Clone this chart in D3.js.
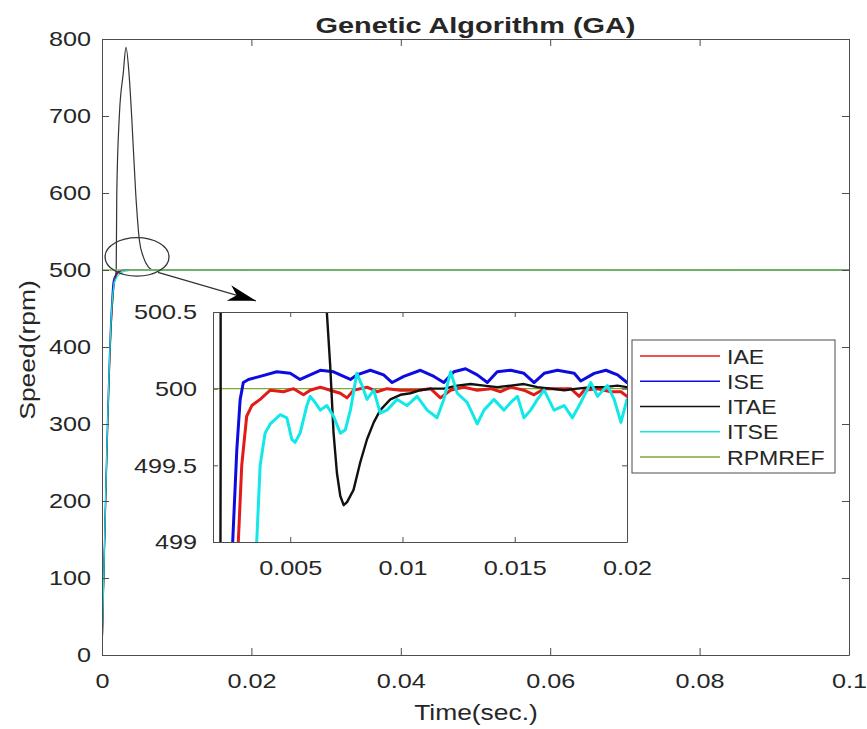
<!DOCTYPE html>
<html>
<head>
<meta charset="utf-8">
<script src="https://cdn.jsdelivr.net/npm/d3@7"></script>
<style>
  body { margin: 0; background: #fff; }
  text { font-family: "Liberation Sans", Arial, sans-serif; fill: #262626; }
  .axis text { font-size: 21px; fill: #262626; }
  .legend text { font-size: 21px; }
</style>
</head>
<body>
<svg id="chart" width="867" height="729"></svg>
<script>
// tick values / labels
var mainXTicks = [0, 0.02, 0.04, 0.06, 0.08, 0.1],
    mainXLabels = ["0", "0.02", "0.04", "0.06", "0.08", "0.1"],
    mainYTicks = [0, 100, 200, 300, 400, 500, 600, 700, 800],
    insetXTicks = [0.005, 0.01, 0.015, 0.02],
    insetXLabels = ["0.005", "0.01", "0.015", "0.02"],
    insetYTicks = [499, 499.5, 500, 500.5],
    insetYLabels = ["499", "499.5", "500", "500.5"];

var seriesNames = ["IAE", "ISE", "ITAE", "ITSE", "RPMREF"];

// [time (s), speed (rpm)]
var iae = [[0,0],[0.0013,440],[0.0016,480],[0.0020,494],[0.0024,498],
  [0.00269,499.01],[0.00284,499.50],[0.00306,499.82],[0.00329,499.89],[0.00366,499.93],
  [0.00411,499.99],[0.00470,499.98],[0.00515,500.00],[0.00559,499.96],[0.00589,499.99],
  [0.00634,500.01],[0.00678,499.99],[0.00723,499.97],[0.00753,499.94],[0.00782,499.99],
  [0.00842,500.01],[0.00887,499.98],[0.00931,500.00],[0.00991,499.99],[0.01065,499.99],
  [0.01125,500.00],[0.01169,499.94],[0.01214,499.99],[0.01273,500.01],[0.01333,499.99],
  [0.01393,500.00],[0.01437,499.98],[0.01482,500.01],[0.01541,499.99],[0.01586,499.96],
  [0.01631,500.00],[0.01690,500.00],[0.01750,500.00],[0.01787,499.95],[0.01809,499.99],
  [0.01869,500.00],[0.01928,499.98],[0.01973,499.98],[0.02000,499.95],[0.1,500]];

var ise = [[0,0],[0.0012,440],[0.0015,485],[0.0019,495],[0.0023,498.6],
  [0.00244,499.01],[0.00262,499.60],[0.00277,499.93],[0.00291,500.04],[0.00314,500.06],
  [0.00366,500.08],[0.00440,500.11],[0.00500,500.10],[0.00544,500.06],[0.00574,500.08],
  [0.00634,500.12],[0.00693,500.11],[0.00768,500.06],[0.00797,500.09],[0.00857,500.12],
  [0.00916,500.09],[0.00954,500.04],[0.01006,500.08],[0.01080,500.12],[0.01140,500.08],
  [0.01184,500.04],[0.01229,500.11],[0.01281,500.13],[0.01333,500.09],[0.01378,500.04],
  [0.01422,500.11],[0.01482,500.12],[0.01541,500.10],[0.01586,500.04],[0.01631,500.10],
  [0.01690,500.12],[0.01765,500.10],[0.01794,500.05],[0.01854,500.10],[0.01906,500.12],
  [0.01958,500.09],[0.02000,500.04],[0.1,500]];

var itae = [[0,0],[0.0012,420],[0.0016,480],[0.00190,499.5],[0.00198,600],[0.00232,700],
  [0.00285,756],[0.00321,789],[0.00361,756],[0.00397,700],[0.00451,600],[0.0050,539],
  [0.00553,517],[0.0062,504],[0.00663,500.50],[0.00678,500.15],
  [0.00693,499.71],[0.00708,499.45],[0.00723,499.30],[0.00738,499.24],[0.00753,499.26],
  [0.00782,499.34],[0.00812,499.52],[0.00842,499.67],[0.00872,499.78],[0.00901,499.86],
  [0.00946,499.93],[0.00991,499.96],[0.01035,499.97],[0.01080,499.99],[0.01125,500.00],
  [0.01184,500.00],[0.01244,500.02],[0.01303,500.03],[0.01363,500.02],[0.01422,500.01],
  [0.01482,500.02],[0.01541,500.03],[0.01601,500.01],[0.01660,500.00],[0.01720,499.99],
  [0.01779,500.00],[0.01839,500.01],[0.01898,500.01],[0.01958,500.02],[0.02000,500.01],
  [0.1,500]];

var itse = [[0,0],[0.0013,450],[0.0017,485],[0.0025,496],[0.0031,498.5],
  [0.00351,499.01],[0.00366,499.50],[0.00388,499.71],[0.00411,499.77],[0.00455,499.83],
  [0.00485,499.81],[0.00507,499.67],[0.00522,499.65],[0.00544,499.71],[0.00574,499.89],
  [0.00589,499.95],[0.00611,499.91],[0.00634,499.86],[0.00663,499.89],[0.00693,499.82],
  [0.00723,499.71],[0.00745,499.73],[0.00768,499.86],[0.00797,500.10],[0.00820,500.02],
  [0.00842,499.93],[0.00872,499.99],[0.00901,499.84],[0.00931,499.86],[0.00976,499.93],
  [0.01020,499.89],[0.01065,499.95],[0.01110,499.86],[0.01154,499.81],[0.01184,499.93],
  [0.01214,500.11],[0.01244,499.97],[0.01288,499.91],[0.01333,499.77],[0.01363,499.86],
  [0.01407,499.93],[0.01452,499.86],[0.01482,499.91],[0.01512,499.95],[0.01541,499.81],
  [0.01571,499.86],[0.01601,499.93],[0.01631,499.99],[0.01675,499.86],[0.01720,499.89],
  [0.01757,499.81],[0.01794,499.91],[0.01839,500.04],[0.01869,499.95],[0.01913,500.02],
  [0.01943,499.93],[0.01973,499.78],[0.02000,499.93],[0.1,500]];

var rpmref = [[0,500],[0.1,500]];

// zoom marker: ellipse centre/radii and arrow ends, in data units
var zoomEllipse = { t: 0.00469, v: 517, rt: 0.00428, rv: 25 };
var zoomArrow = [[0.0075, 497], [0.0206, 460]];

var colors = { IAE: "#e31a1a", ISE: "#0c0ce0", ITAE: "#111", ITSE: "#12e8e8", RPMREF: "#77ac30" };
var frameColor = "#4d4d4d";

var svg = d3.select("#chart");

function stretch(sel, k) {
  sel.each(function () {
    var w = this.getComputedTextLength();
    d3.select(this).attr("textLength", w * k).attr("lengthAdjust", "spacingAndGlyphs");
  });
}

// ---------- main axes ----------
var x = d3.scaleLinear().domain([0, 0.1]).range([102, 849]),
    y = d3.scaleLinear().domain([0, 800]).range([655, 39]);

svg.append("clipPath").attr("id", "clipMain")
  .append("rect").attr("x", 102).attr("y", 39).attr("width", 747).attr("height", 616);

var line = d3.line().curve(d3.curveMonotoneX)
  .x(function (d) { return x(d[0]); }).y(function (d) { return y(d[1]); });

var mainG = svg.append("g").attr("clip-path", "url(#clipMain)");
[[iae, "IAE"], [ise, "ISE"], [itae, "ITAE"], [itse, "ITSE"]].forEach(function (s) {
  mainG.append("path").datum(s[0]).attr("d", line)
    .attr("fill", "none")
    .attr("stroke", s[1] == "ITAE" ? "#333" : colors[s[1]])
    .attr("stroke-width", 1.2)
    .attr("stroke-linejoin", "round");
});
mainG.append("path").datum(rpmref).attr("d", line)
  .attr("fill", "none").attr("stroke", "#86b850").attr("stroke-width", 1.6);

svg.append("g").attr("class", "axis").attr("color", frameColor)
  .attr("transform", "translate(0,655)")
  .call(d3.axisBottom(x).tickValues(mainXTicks)
    .tickFormat(function (d, i) { return mainXLabels[i]; })
    .tickSize(-7).tickSizeOuter(0).tickPadding(18));
svg.append("g").attr("class", "axis").attr("color", frameColor)
  .attr("transform", "translate(0,39)")
  .call(d3.axisTop(x).tickValues(mainXTicks).tickFormat("").tickSize(-7).tickSizeOuter(0));
svg.append("g").attr("class", "axis").attr("color", frameColor)
  .attr("transform", "translate(102,0)")
  .call(d3.axisLeft(y).tickValues(mainYTicks).tickFormat(d3.format("d"))
    .tickSize(-7).tickSizeOuter(0).tickPadding(11));
svg.append("g").attr("class", "axis").attr("color", frameColor)
  .attr("transform", "translate(849,0)")
  .call(d3.axisRight(y).tickValues(mainYTicks).tickFormat("").tickSize(-7).tickSizeOuter(0));

// zoom ellipse + arrow
svg.append("ellipse")
  .attr("cx", x(zoomEllipse.t)).attr("cy", y(zoomEllipse.v))
  .attr("rx", x(zoomEllipse.rt) - x(0)).attr("ry", y(0) - y(zoomEllipse.rv))
  .attr("fill", "none").attr("stroke", "#333").attr("stroke-width", 1.3);

svg.append("defs").append("marker")
  .attr("id", "head").attr("markerUnits", "userSpaceOnUse")
  .attr("viewBox", "-30 -10 32 20").attr("refX", 0).attr("refY", 0)
  .attr("markerWidth", 32).attr("markerHeight", 20).attr("orient", "auto")
  .append("path").attr("d", "M0,0L-28,-8L-20,0L-28,8Z").attr("fill", "#000");

svg.append("line")
  .attr("x1", x(zoomArrow[0][0])).attr("y1", y(zoomArrow[0][1]))
  .attr("x2", x(zoomArrow[1][0])).attr("y2", y(zoomArrow[1][1]))
  .attr("stroke", "#333").attr("stroke-width", 1.3)
  .attr("marker-end", "url(#head)");

// ---------- inset axes ----------
var xi = d3.scaleLinear().domain([0.00156, 0.02]).range([213, 627]),
    yi = d3.scaleLinear().domain([499, 500.5]).range([542, 312]);

svg.append("rect").attr("x", 213).attr("y", 312).attr("width", 414).attr("height", 230)
  .attr("fill", "#fff");
svg.append("clipPath").attr("id", "clipInset")
  .append("rect").attr("x", 213).attr("y", 312).attr("width", 414).attr("height", 230);

var lineI = d3.line().x(function (d) { return xi(d[0]); }).y(function (d) { return yi(d[1]); });

var insetG = svg.append("g").attr("clip-path", "url(#clipInset)");
insetG.append("path").datum(rpmref).attr("d", lineI)
  .attr("fill", "none").attr("stroke", colors.RPMREF).attr("stroke-width", 1.2);
[[iae, "IAE", 3], [ise, "ISE", 3], [itae, "ITAE", 2.4], [itse, "ITSE", 3]].forEach(function (s) {
  insetG.append("path").datum(s[0]).attr("d", lineI)
    .attr("fill", "none").attr("stroke", colors[s[1]])
    .attr("stroke-width", s[2]).attr("stroke-linejoin", "round");
});

svg.append("g").attr("class", "axis").attr("color", frameColor)
  .attr("transform", "translate(0,542)")
  .call(d3.axisBottom(xi).tickValues(insetXTicks)
    .tickFormat(function (d, i) { return insetXLabels[i]; })
    .tickSize(-5).tickSizeOuter(0).tickPadding(18));
svg.append("g").attr("class", "axis").attr("color", frameColor)
  .attr("transform", "translate(0,312)")
  .call(d3.axisTop(xi).tickValues(insetXTicks).tickFormat("").tickSize(-5).tickSizeOuter(0));
svg.append("g").attr("class", "axis").attr("color", frameColor)
  .attr("transform", "translate(213,0)")
  .call(d3.axisLeft(yi).tickValues(insetYTicks)
    .tickFormat(function (d, i) { return insetYLabels[i]; })
    .tickSize(-5).tickSizeOuter(0).tickPadding(16));
svg.append("g").attr("class", "axis").attr("color", frameColor)
  .attr("transform", "translate(627,0)")
  .call(d3.axisRight(yi).tickValues(insetYTicks).tickFormat("").tickSize(-5).tickSizeOuter(0));

// ---------- legend ----------
var legend = svg.append("g").attr("class", "legend");
legend.append("rect").attr("x", 632).attr("y", 340).attr("width", 203).attr("height", 133)
  .attr("fill", "#fff").attr("stroke", frameColor).attr("stroke-width", 1);
var rowY = d3.scalePoint().domain(seriesNames).range([356, 457]);
seriesNames.forEach(function (n) {
  legend.append("line").attr("x1", 640).attr("x2", 720)
    .attr("y1", rowY(n)).attr("y2", rowY(n))
    .attr("stroke", colors[n]).attr("stroke-width", 1.3);
  legend.append("text").attr("x", 727).attr("y", rowY(n)).attr("dy", "0.36em").text(n);
});

// ---------- titles ----------
svg.append("text").attr("class", "title")
  .attr("x", 475.5).attr("y", 33).attr("text-anchor", "middle")
  .attr("font-weight", "bold").attr("font-size", "22px").attr("fill", "#000")
  .text("Genetic Algorithm (GA)");
svg.append("text").attr("class", "xlabel")
  .attr("x", 476).attr("y", 720).attr("text-anchor", "middle").attr("font-size", "22px")
  .text("Time(sec.)");
svg.append("text").attr("class", "ylabel")
  .attr("transform", "translate(35,350) rotate(-90)").attr("text-anchor", "middle")
  .attr("font-size", "22px")
  .text("Speed(rpm)");

stretch(svg.selectAll(".axis text"), 1.2);
stretch(svg.selectAll(".legend text"), 1.1);
stretch(svg.selectAll(".xlabel, .ylabel"), 1.2);
svg.select(".title").attr("textLength", 320).attr("lengthAdjust", "spacingAndGlyphs");
</script>
</body>
</html>
